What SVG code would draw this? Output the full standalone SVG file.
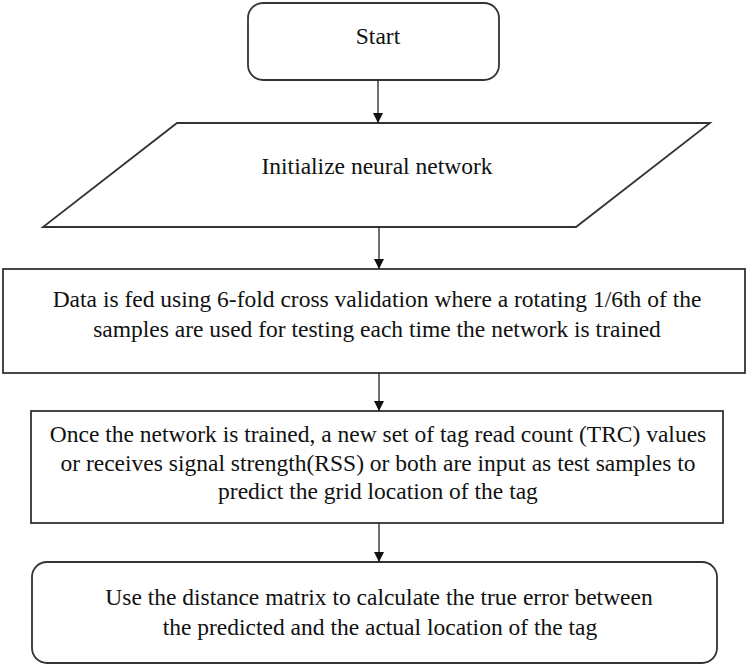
<svg xmlns="http://www.w3.org/2000/svg" width="746" height="664" viewBox="0 0 746 664">
<defs>
<style>
.box{fill:#fff;stroke:#333;stroke-width:1.8}
.c{stroke:#222;stroke-width:1.3;fill:none}
.t{font-family:'Liberation Serif','Times New Roman',serif;font-size:23.5px;fill:#111;text-anchor:middle}
</style>
<marker id="ah" viewBox="0 0 10 10" refX="10" refY="5" markerWidth="10" markerHeight="10" markerUnits="userSpaceOnUse" orient="auto">
<path d="M0,0 L10,5 L0,10 Z" fill="#111"/>
</marker>
</defs>
<rect width="746" height="664" fill="#fff"/>
<g id="start">
<rect class="box" x="248" y="3" width="251" height="77" rx="15"/>
<text class="t" x="378" y="44">Start</text>
</g>
<g id="init">
<polygon class="box" points="177,123 710,123 576,227 43,227"/>
<text class="t" x="377" y="174">Initialize neural network</text>
</g>
<g id="data">
<rect class="box" x="3" y="269" width="742" height="104"/>
<text class="t" x="377" y="307">Data is fed using 6-fold cross validation where a rotating 1/6th of the</text>
<text class="t" x="377" y="337">samples are used for testing each time the network is trained</text>
</g>
<g id="test">
<rect class="box" x="31" y="411" width="692" height="112"/>
<text class="t" x="378" y="442">Once the network is trained, a new set of tag read count (TRC) values</text>
<text class="t" x="378" y="471">or receives signal strength(RSS) or both are input as test samples to</text>
<text class="t" x="378" y="499">predict the grid location of the tag</text>
</g>
<g id="error">
<rect class="box" x="32" y="562" width="685" height="101" rx="15"/>
<text class="t" x="379" y="605">Use the distance matrix to calculate the true error between</text>
<text class="t" x="380" y="635">the predicted and the actual location of the tag</text>
</g>
<g id="connectors">
<line class="c" x1="378" y1="80" x2="378" y2="123" marker-end="url(#ah)"/>
<line class="c" x1="379" y1="227" x2="379" y2="269" marker-end="url(#ah)"/>
<line class="c" x1="379" y1="373" x2="379" y2="411" marker-end="url(#ah)"/>
<line class="c" x1="379" y1="523" x2="379" y2="562" marker-end="url(#ah)"/>
</g>
</svg>
